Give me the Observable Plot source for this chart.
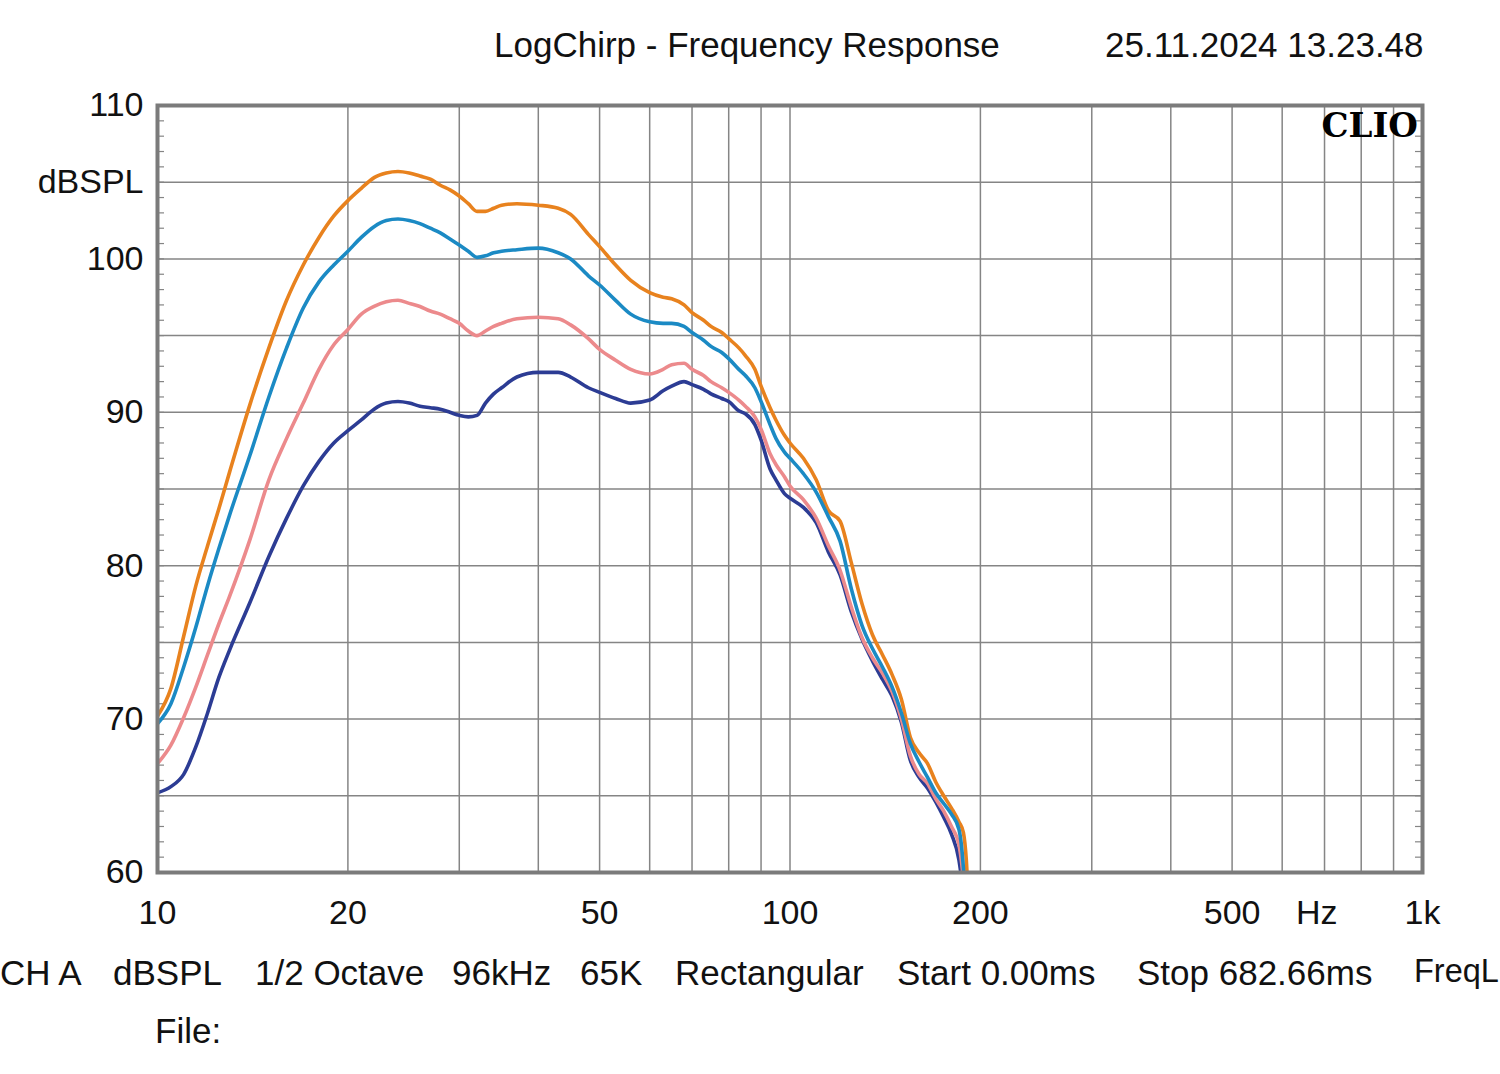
<!DOCTYPE html>
<html><head><meta charset="utf-8">
<script src="https://cdn.jsdelivr.net/npm/d3@7"></script>
<script src="https://cdn.jsdelivr.net/npm/@observablehq/plot@0.6"></script>
<style>
body{margin:0;background:#fff;overflow:hidden}
#wrap{position:relative;width:1500px;height:1074px;overflow:hidden;font-family:"Liberation Sans",Arial,sans-serif;color:#111;background:#fff}
#wrap svg{position:absolute;left:0;top:0}
.t{position:absolute;font-size:35px;white-space:nowrap;line-height:1}
.clio{position:absolute;font-family:"DejaVu Serif",serif;font-weight:bold;font-size:34px;line-height:1;color:#000}
</style></head><body><div id="wrap"></div>
<script>
// Frequencies (Hz) at which the curves were read
const freqs = [10,10.5,11,11.5,12,12.5,13,14,15,16,17,18,19,20,21,22,23,24,25,26,27,28,29,30,31,32,33,34,35,37,40,43,45,48,50,53,56,60,63,65,68,70,73,75,78,80,83,85,88,90,93,95,98,100,105,110,115,120,125,130,135,140,145,150,155,160,165,170,175,180,185,188,190,192];
// Series values (dBSPL)
const orangeDb = [70.2,72.0,75.4,78.7,81.3,83.7,86.1,90.5,94.2,97.3,99.6,101.4,102.8,103.8,104.6,105.3,105.6,105.7,105.6,105.4,105.2,104.8,104.5,104.1,103.6,103.1,103.1,103.3,103.5,103.6,103.5,103.3,102.9,101.6,100.8,99.6,98.6,97.8,97.5,97.4,97.0,96.5,96.0,95.6,95.2,94.8,94.2,93.7,92.8,91.7,90.3,89.5,88.5,88.0,87.0,85.6,83.6,82.9,80.2,77.5,75.5,74.2,72.9,71.3,68.8,67.8,67.1,65.9,65.0,64.2,63.3,62.6,60.8,57.0];
const blueDb = [69.7,71.0,73.4,76.0,78.7,81.1,83.3,87.2,91.0,94.2,96.8,98.5,99.6,100.5,101.4,102.1,102.5,102.6,102.5,102.3,102.0,101.7,101.3,100.9,100.5,100.1,100.2,100.4,100.5,100.6,100.7,100.4,100.0,98.9,98.3,97.3,96.4,95.9,95.8,95.8,95.6,95.2,94.7,94.3,93.9,93.5,92.8,92.4,91.6,90.7,89.2,88.3,87.4,87.0,86.0,84.8,83.2,81.6,78.5,76.1,74.6,73.4,72.1,70.4,68.4,67.2,66.2,65.2,64.5,63.8,62.8,60.3,57.0,55.0];
const pinkDb = [67.1,68.3,70.1,72.1,74.2,76.2,78.0,81.7,85.6,88.3,90.6,92.8,94.4,95.4,96.4,96.9,97.2,97.3,97.1,96.9,96.6,96.4,96.1,95.8,95.3,95.0,95.3,95.6,95.8,96.1,96.2,96.1,95.7,94.8,94.1,93.4,92.8,92.5,92.8,93.1,93.2,92.8,92.4,92.0,91.6,91.3,90.8,90.4,89.7,88.9,87.3,86.6,85.8,85.2,84.3,83.1,81.3,79.7,77.3,75.3,74.0,73.0,71.8,70.0,67.6,66.4,65.8,64.8,64.0,63.0,61.8,59.5,57.0,55.0];
const navyDb = [65.2,65.6,66.4,68.2,70.4,72.7,74.5,77.6,80.6,83.1,85.2,86.8,88.0,88.8,89.5,90.2,90.6,90.7,90.6,90.4,90.3,90.2,90.0,89.8,89.7,89.8,90.6,91.2,91.6,92.3,92.6,92.6,92.3,91.6,91.3,90.9,90.6,90.8,91.4,91.7,92.0,91.8,91.5,91.2,90.9,90.7,90.1,89.9,89.2,88.2,86.3,85.6,84.7,84.4,83.8,82.8,80.9,79.4,77.0,75.2,73.8,72.6,71.5,69.8,67.3,66.2,65.5,64.6,63.6,62.5,60.8,58.5,56.0,54.0];

const seriesNames = ["Trace 4","Trace 3","Trace 1","Trace 2"];
const seriesColors = ["#2C3C94","#EC8A8C","#E8821E","#1B8AC4"];
const seriesValues = [navyDb, pinkDb, orangeDb, blueDb];

// Axis ticks and grid
const xTicks = [10,20,50,100,200,500,1000];
const xTickLabels = {10:"10",20:"20",50:"50",100:"100",200:"200",500:"500",1000:"1k"};
const yTicks = [60,70,80,90,100,105,110];
const yTickLabels = {60:"60",70:"70",80:"80",90:"90",100:"100",105:"dBSPL",110:"110"};
const gridFreqs = [20,30,40,50,60,70,80,90,100,200,300,400,500,600,700,800,900];
const gridDb = [65,70,75,80,85,90,95,100,105];
const minorDb = d3.range(61,110);

const rows = seriesNames.flatMap((s,k) => freqs.map((f,i) => ({f, db: seriesValues[k][i], s})));

const W = 1500, H = 1074, mL = 157, mR = 78, mT = 105, mB = 202;
const plotW = W - mL - mR;
const gray = "#858585";

const chart = Plot.plot({
  width: W, height: H,
  marginLeft: mL, marginRight: mR, marginTop: mT, marginBottom: mB,
  x: {type: "log", domain: [10, 1000]},
  y: {domain: [60, 110]},
  color: {type: "ordinal", domain: seriesNames, range: seriesColors},
  style: {fontFamily: "'Liberation Sans', Arial, sans-serif", fontSize: "34px", color: "#111", background: "transparent", overflow: "visible"},
  marks: [
    Plot.ruleX(gridFreqs, {stroke: gray, strokeWidth: 1.5, strokeOpacity: 1}),
    Plot.ruleY(gridDb, {stroke: gray, strokeWidth: 1.5, strokeOpacity: 1}),
    Plot.ruleY(minorDb, {stroke: gray, strokeWidth: 1.2, insetRight: plotW - 7}),
    Plot.ruleY(minorDb, {stroke: gray, strokeWidth: 1.2, insetLeft: plotW - 7}),
    Plot.line(rows, {x: "f", y: "db", z: "s", stroke: "s", strokeWidth: 3.6, curve: "monotone-x", clip: true}),
    Plot.frame({stroke: "#7b7b7b", strokeWidth: 4}),
    Plot.axisX({ticks: xTicks, tickFormat: d => xTickLabels[d], tickSize: 0, tickPadding: 27, label: null, fill: "#111"}),
    Plot.axisY({ticks: yTicks, tickFormat: d => yTickLabels[d], tickSize: 0, tickPadding: 14, label: null, fill: "#111"})
  ]
});

const wrap = document.getElementById("wrap");
wrap.appendChild(chart);

function addText(txt, left, top, cls) {
  const d = document.createElement("div");
  d.className = cls || "t";
  d.textContent = txt;
  d.style.left = left + "px";
  d.style.top = top + "px";
  wrap.appendChild(d);
  return d;
}
addText("LogChirp - Frequency Response", 494, 27);
addText("25.11.2024 13.23.48", 1105, 27);
const hz = addText("Hz", 1296, 895);
hz.style.fontSize = "34px";
const clio = addText("CLIO", 0, 108, "clio");
clio.style.left = "auto"; clio.style.right = "82px";
const footer = ["CH A","dBSPL","1/2 Octave","96kHz","65K","Rectangular","Start 0.00ms","Stop 682.66ms","FreqL"];
const footerX = [0,113,255,452,580,675,897,1137,1414];
footer.forEach((s,i) => {
  const d = addText(s, footerX[i], 955);
  if (s === "FreqL") d.style.fontSize = "32.5px";
});
addText("File:", 155, 1013);
</script>
</body></html>
